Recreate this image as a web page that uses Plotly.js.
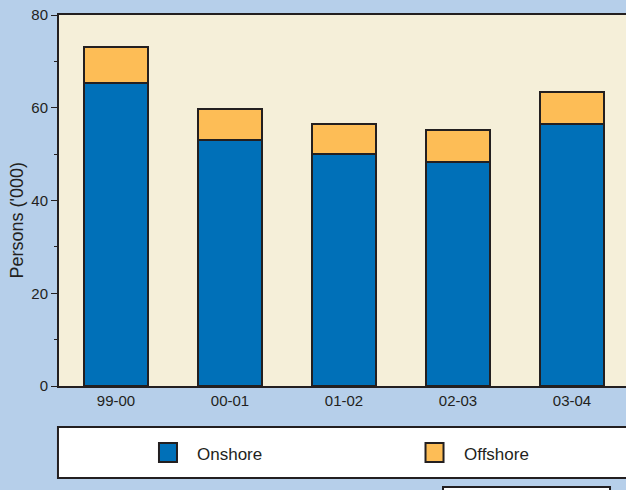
<!DOCTYPE html>
<html>
<head>
<meta charset="utf-8">
<script src="https://cdn.plot.ly/plotly-3.0.1.min.js"></script>
<style>
html,body{margin:0;padding:0;overflow:hidden;background:#b6cfea;}
#chart{width:640px;height:490px;}
</style>
</head>
<body>
<div id="chart"></div>
<script>
const years = ["99-00", "00-01", "01-02", "02-03", "03-04"];
const onshore = [65.3, 53.1, 50.0, 48.4, 56.5];
const offshore = [7.8, 6.6, 6.4, 6.7, 6.8];
const seriesNames = ["Onshore", "Offshore"];
const seriesColors = ["#0070b8", "#fdbd56"];
const yTicks = [0, 20, 40, 60, 80];
const yTitle = "Persons ('000)";

const ink = "#231f20";
const traces = [
  {type: "bar", name: seriesNames[0], x: years, y: onshore,
   marker: {color: seriesColors[0], line: {color: ink, width: 2}}},
  {type: "bar", name: seriesNames[1], x: years, y: offshore,
   marker: {color: seriesColors[1], line: {color: ink, width: 2}}}
];

// manual legend (swatches + labels) inside a framed box below the plot
const legendSwatchX = [0.1754, 0.6430];
const swatchW = 0.0316;
const legendShapes = seriesNames.map((n, i) => ({
  type: "rect", xref: "paper", yref: "paper",
  x0: legendSwatchX[i], x1: legendSwatchX[i] + swatchW, y0: -0.2049, y1: -0.1536,
  fillcolor: seriesColors[i], line: {color: ink, width: 2}
}));
const legendText = seriesNames.map((n, i) => ({
  xref: "paper", yref: "paper", x: legendSwatchX[i] + 0.0640, y: -0.1833,
  xanchor: "left", yanchor: "middle", text: n, showarrow: false,
  font: {size: 17, color: ink}
}));
const yTitleAnn = {
  xref: "paper", yref: "paper", x: -0.0728, y: 0.4474, xanchor: "center", yanchor: "middle",
  text: yTitle, textangle: -90, showarrow: false, font: {size: 18, color: ink}
};

const layout = {
  width: 640, height: 490,
  margin: {l: 59, r: 11, t: 15, b: 104},
  paper_bgcolor: "#b6cfea",
  plot_bgcolor: "#f5efd9",
  barmode: "stack",
  bargap: 0.44,
  font: {family: "Liberation Sans, Arial, sans-serif", size: 15, color: ink},
  showlegend: false,
  xaxis: {type: "category", range: [-0.5, 4.5], showline: true, linecolor: ink, linewidth: 2,
          mirror: true, ticks: "", showgrid: false, tickfont: {size: 15, color: ink}},
  yaxis: {range: [0, 80], tickvals: yTicks, showline: true, linecolor: ink, linewidth: 2,
          mirror: true, ticks: "outside", ticklen: 6, tickwidth: 1, tickcolor: ink,
          showgrid: false, zeroline: false, tickfont: {size: 15, color: ink},
          minor: {dtick: 10, ticks: "outside", ticklen: 3, tickcolor: ink, showgrid: false}},
  shapes: [
    {type: "rect", xref: "paper", yref: "paper", x0: -0.0018, x1: 1.2, y0: -0.248, y1: -0.1105,
     fillcolor: "#ffffff", line: {color: ink, width: 2}, layer: "below"},
    {type: "rect", xref: "paper", yref: "paper", x0: 0.6737, x1: 0.9667, y0: -0.32, y1: -0.2725,
     fillcolor: "#ffffff", line: {color: ink, width: 2}, layer: "below"}
  ].concat(legendShapes),
  annotations: legendText.concat([yTitleAnn])
};

Plotly.newPlot("chart", traces, layout, {displayModeBar: false, staticPlot: true});
</script>
</body>
</html>
